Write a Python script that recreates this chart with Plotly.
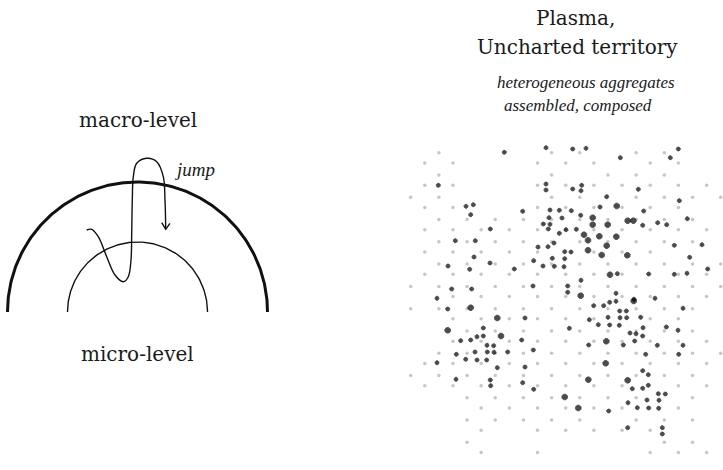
import math
import plotly.graph_objects as go

W, H = 723, 470

# ---------------- left diagram (map units = page px) ----------------
ARC_CENTER_X, ARC_CENTER_Y = 137.5, 312
OUTER_R = 130
INNER_R = 70

WIGGLE_X = [86.7, 91.7, 98.3, 106.7, 115.0, 123.3, 128.3, 131.0, 131.7, 132.3,
            133.3, 136.7, 146.7, 156.7, 163.3, 165.0, 165.7]
WIGGLE_Y = [230.0, 229.3, 236.7, 256.7, 275.0, 281.7, 276.7, 260.0, 233.3, 200.0,
            176.7, 163.3, 158.3, 161.7, 176.7, 200.0, 229.3]
ARROW_X = [161.7, 165.7, 170.0]
ARROW_Y = [222.7, 229.3, 223.3]

# ---------------- right panel: background lattice ----------------
GRID_X0, GRID_DX = 410.7, 14.09          # half-column step
GRID_Y0, GRID_PAIR, GRID_OFF = 152.7, 22.28, 10.2
GRID_ROWS = [
    [2, 10, 12, 16, 18],
    [1, 3, 9, 11, 13, 17, 19],
    [2, 10, 14, 16, 18],
    [1, 3, 9, 11, 13, 15, 17, 19, 21],
    [0, 2, 10, 12, 16, 18, 20, 22],
    [1, 3, 9, 11, 13, 15, 17, 19],
    [2, 4, 6, 8, 10, 12, 14, 16, 18, 20],
    [1, 3, 5, 7, 9, 11, 13, 15, 17, 19, 21],
    [2, 4, 6, 8, 10, 12, 14, 16, 18, 20],
    [1, 3, 5, 7, 9, 13, 15, 17],
    [2, 4, 6, 8, 10, 12, 14, 16, 18, 20, 22],
    [1, 3, 5, 7, 9, 11, 13, 15, 19, 21],
    [0, 2, 4, 6, 8, 10, 12, 14, 16, 18, 20, 22],
    [3, 5, 7, 9, 11, 13, 15, 17, 19, 21],
    [0, 2, 4, 6, 8, 10, 12, 14, 16, 18, 20],
    [3, 5, 7, 9, 11, 13, 17, 19],
    [4, 6, 8, 10, 12, 14, 16, 18, 20],
    [3, 5, 7, 9, 11, 13, 15, 17, 19, 21],
    [2, 4, 6, 8, 10, 12, 14, 16, 18, 20, 22],
    [1, 3, 5, 7, 9, 11, 13, 15, 17, 19, 21],
    [0, 2, 4, 6, 8, 10, 12, 14, 16, 18, 20],
    [1, 3, 5, 7, 9, 11, 13, 15, 19, 21],
    [4, 6, 8, 10, 12, 14, 16, 20],
    [5, 7, 9, 11, 13, 15, 19],
    [4, 6, 8, 10, 12, 16, 18, 20],
    [5, 9, 11, 13, 15, 17],
    [4, 18, 20],
    [5, 9, 17, 19, 21],
]

# ---------------- right panel: aggregates (x, y, weight) ----------------
BLACK_X = [
    504.3, 546, 438.3, 546, 546, 466, 473.3, 470.7, 522.7, 550, 559.3, 549, 543.3, 550,
    548.3, 559.3, 490.3, 455.3, 475.3, 554, 538, 548, 474, 552.3, 490, 533.7, 543,
    554.3, 448, 469.7, 514.3, 533, 451.7, 471.7, 437,
    572.7, 586, 678.3, 620.3, 670.3, 572.7, 581.7, 581, 638.3, 606.7, 679.3, 571.3, 600,
    616.7, 643.7, 562, 580.7, 592.7, 627.7, 633.3, 642.7, 657.7, 666.7, 687.3, 566,
    576.3, 592.7, 607.7, 584, 599.3, 616.3, 588, 564.7, 571, 588, 606.7, 601.7, 627.3,
    674.3, 702, 689.7, 564.7, 564, 707.7, 610, 617.3, 648.7, 674.3, 687, 581, 567.7,
    567.7, 580.7, 616, 634, 655,
    447.7, 470.7, 497.3, 525, 447.7, 483.3, 460.7, 470.7, 477, 483.3, 501, 521.7,
    456.3, 475, 487.3, 494, 507.7, 533.3, 487, 493.7, 437, 465.7, 477, 486.7, 497.3,
    525, 456, 490.3, 522.7, 490.7, 533.7,
    593.7, 603.7, 609.7, 616, 633.7, 683, 589.3, 608, 620, 626.7, 619.7, 626.3, 640.7,
    569.3, 598.3, 609.7, 619.3, 643, 630, 636, 666.3, 678, 606.3, 634.7, 642.7, 588.7,
    623.3, 657.3, 683, 645.7, 678.7, 605.7, 642.7, 648.3, 588.3, 627.7, 632.3, 642.7,
    648.3, 564.7, 658.3, 665.3, 647, 659, 628, 578.3, 608.7, 637.3, 648.7, 658.7,
    627.7, 662.3, 662.3,
]
BLACK_Y = [
    152.3, 147.7, 185.3, 184, 190, 206.3, 204.7, 214.7, 211.3, 210, 210.3, 217.7, 224,
    224.3, 229, 233.3, 229, 240.7, 240.7, 243, 247, 246.7, 257, 258.3, 263, 260.7, 266,
    266.3, 266, 269.3, 269, 286, 289, 289, 298.3,
    149, 148.3, 149, 157.7, 157.7, 189, 185.3, 190.7, 189.3, 196.7, 200.7, 210.7, 207,
    206, 211, 218, 215.3, 217.7, 220.7, 220.7, 225.3, 222.7, 224.7, 218.7, 229.7,
    229.3, 224.7, 224.7, 234.7, 236.3, 236.7, 240.3, 251.7, 252, 250.3, 245.7, 255, 255.3,
    245.3, 244.7, 257.3, 258.7, 266.7, 269, 274.7, 273.7, 274, 274.3, 273.3, 280.3, 286,
    292.3, 295.7, 293.3, 299.3, 298.3,
    309, 307.7, 318, 318, 330.3, 328, 340.7, 340, 336.7, 336, 336, 340,
    354.3, 352, 352, 352.3, 352, 350, 345.3, 345.7, 362.7, 359.3, 360, 360, 367.7,
    367, 379.3, 380, 382.7, 385.7, 389.3,
    305.7, 305.7, 302.3, 301.3, 301, 308.3, 319.7, 317.3, 317.7, 317.7, 311, 311, 317.3,
    328.3, 324.7, 325, 325.3, 327.7, 333, 333.7, 327, 330.3, 341.3, 341, 336, 345,
    345, 345.3, 345.3, 354.3, 354.3, 363.3, 370.7, 374.7, 379.7, 380.3, 388.7, 388.3,
    385.3, 397, 393.7, 394, 400, 400.3, 402.7, 408, 411, 407.7, 408, 408.3,
    427.7, 427.7, 434,
]
BLACK_WEIGHT = [
    1] * 35 + [
    1, 1, 1, 1, 1, 1, 1, 1, 1, 1, 1, 1, 1,
    2, 1, 1, 1, 2, 2, 2, 1, 1, 1, 1, 1,
    1, 2, 2, 2, 2, 2, 2, 1, 1, 2, 2, 2, 2,
    1, 1, 1, 1, 1, 1, 2, 1, 1, 1, 1, 1, 1,
    1, 2, 1, 1, 1,
] + [
    1, 2, 2, 1, 2, 1, 1, 1, 1, 1, 2, 1,
    1, 1, 1, 1, 1, 1, 1, 1, 1, 1, 1, 1, 1,
    1, 1, 1, 1, 1, 1,
] + [
    1, 1, 1, 1, 2, 1, 1, 1, 1, 1, 1, 1, 1,
    1, 1, 1, 1, 1, 1, 1, 1, 1, 2, 1, 1, 1,
    1, 1, 1, 1, 1, 2, 1, 1, 2, 2, 1, 1,
    1, 2, 1, 1, 1, 1, 1, 2, 1, 1, 1, 1,
    1, 1, 1,
]

# ---------------- texts ----------------
LABELS = [
    # text, x, y, italic, size
    ("macro-level", 137.5, 119.5, False, 20),
    ("micro-level", 137.5, 353.5, False, 20),
    ("jump", 194.0, 169.5, True, 19),
    ("Plasma,", 575.5, 17.5, False, 20),
    ("Uncharted territory", 577.5, 47.0, False, 20),
    ("heterogeneous aggregates", 585.5, 82.0, True, 17),
    ("assembled, composed", 578.0, 105.0, True, 17),
]

fig = go.Figure()

def arc(cx, cy, r, n=181):
    xs, ys = [], []
    for i in range(n):
        t = math.pi * i / (n - 1)
        xs.append(cx - r * math.cos(t))
        ys.append(cy - r * math.sin(t))
    return xs, ys

ox, oy = arc(ARC_CENTER_X, ARC_CENTER_Y, OUTER_R)
fig.add_trace(go.Scatter(x=ox, y=oy, mode="lines", line=dict(color="#111", width=3),
                         hoverinfo="skip"))
ix, iy = arc(ARC_CENTER_X, ARC_CENTER_Y, INNER_R)
fig.add_trace(go.Scatter(x=ix, y=iy, mode="lines", line=dict(color="#111", width=1.4),
                         hoverinfo="skip"))
fig.add_trace(go.Scatter(x=WIGGLE_X, y=WIGGLE_Y, mode="lines",
                         line=dict(color="#111", width=1.4, shape="spline", smoothing=1.0),
                         hoverinfo="skip"))
fig.add_trace(go.Scatter(x=ARROW_X, y=ARROW_Y, mode="lines",
                         line=dict(color="#111", width=1.4), hoverinfo="skip"))

gx, gy = [], []
for r, cols in enumerate(GRID_ROWS):
    yy = GRID_Y0 + GRID_PAIR * (r // 2) + GRID_OFF * (r % 2)
    for h in cols:
        gx.append(GRID_X0 + GRID_DX * h)
        gy.append(yy)
fig.add_trace(go.Scatter(x=gx, y=gy, mode="markers",
                         marker=dict(color="#c6c6c6", size=3.5, line=dict(width=0)),
                         hoverinfo="skip"))

sizes = [4.2 if w == 1 else 6.0 for w in BLACK_WEIGHT]
fig.add_trace(go.Scatter(x=BLACK_X, y=BLACK_Y, mode="markers",
                         marker=dict(color="#000", size=sizes, symbol="octagon",
                                     line=dict(width=0.8, color="#000")),
                         hoverinfo="skip"))

for text, x, y, italic, size in LABELS:
    fam = "Liberation Serif" if italic else "DejaVu Serif"
    fig.add_annotation(x=x, y=y, xref="x", yref="y", text=text, showarrow=False,
                       xanchor="center", yanchor="middle",
                       font=dict(family=fam, size=size, color="#1a1a1a",
                                 style="italic" if italic else "normal"))

fig.update_layout(
    width=W, height=H, margin=dict(l=0, r=0, t=0, b=0),
    paper_bgcolor="white", plot_bgcolor="white", showlegend=False,
    xaxis=dict(range=[0, W], visible=False, fixedrange=True),
    yaxis=dict(range=[H, 0], visible=False, fixedrange=True),
)

fig.write_html("out.html", config={"displayModeBar": False},
               post_script="document.body.style.margin='0';document.body.style.overflow='hidden';")
